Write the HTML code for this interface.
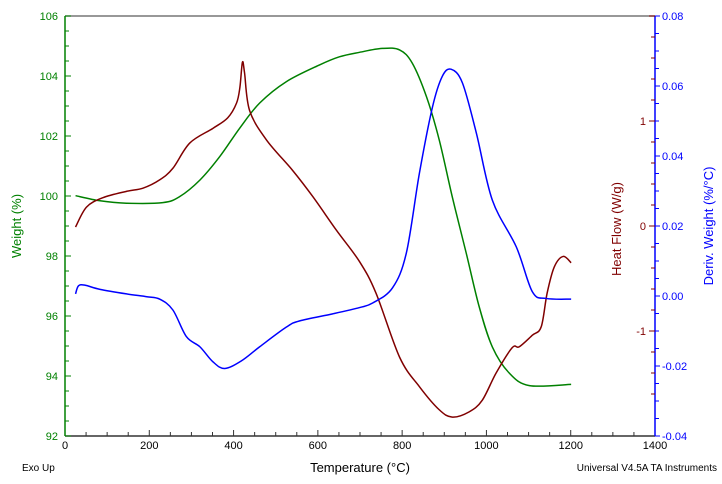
<!DOCTYPE html>
<html><head><meta charset="utf-8"><style>
body{margin:0;background:#fff;}
svg{display:block;font-family:"Liberation Sans",Arial,sans-serif;}
</style></head><body>
<svg id="chart" width="722" height="484" viewBox="0 0 722 484" xmlns="http://www.w3.org/2000/svg">
<g id="axes"></g>
<g id="series"></g>
<text x="22" y="471" font-size="10" fill="#000">Exo Up</text>
<text x="360" y="472" font-size="13" text-anchor="middle" fill="#000">Temperature (°C)</text>
<text x="717" y="471" font-size="10" text-anchor="end" fill="#000">Universal V4.5A TA Instruments</text>
<text transform="translate(21,226) rotate(-90)" font-size="13" text-anchor="middle" fill="#008000">Weight (%)</text>
<text transform="translate(621,229) rotate(-90)" font-size="13" text-anchor="middle" fill="#800000">Heat Flow (W/g)</text>
<text transform="translate(713,226) rotate(-90)" font-size="13" text-anchor="middle" fill="#0000ff">Deriv. Weight (%/°C)</text>
</svg>
<script>
// Data
const weightT = [25,83,146,232,272,320,367,415,462,525,604,651,699,753,794,824,858,888,919,952,983,1014,1054,1102,1201];
const weightV = [100.01,99.84,99.76,99.78,99.98,100.53,101.31,102.27,103.1,103.81,104.37,104.64,104.79,104.92,104.87,104.43,103.3,101.87,99.97,98.1,96.3,94.97,94.1,93.68,93.72];
const heatT = [25,51,90,146,185,225,256,296,351,386,407,415,421,426,438,478,540,588,644,699,738,794,841,888,919,959,990,1023,1061,1078,1109,1130,1144,1161,1182,1201];
const heatV = [-0.01,0.18,0.27,0.33,0.36,0.44,0.55,0.79,0.93,1.03,1.17,1.32,1.56,1.46,1.10,0.82,0.53,0.28,-0.04,-0.34,-0.64,-1.25,-1.53,-1.75,-1.82,-1.77,-1.66,-1.40,-1.16,-1.15,-1.04,-0.96,-0.64,-0.39,-0.29,-0.35];
const derivT = [25,32,47,83,146,194,225,256,288,320,351,379,419,462,525,557,635,699,730,777,810,841,872,895,916,943,976,1014,1071,1109,1142,1201];
const derivV = [0.0006,0.0029,0.0031,0.0019,0.0006,-0.0002,-0.0009,-0.004,-0.0116,-0.0145,-0.0188,-0.0207,-0.0185,-0.0145,-0.0089,-0.0071,-0.0051,-0.0033,-0.002,0.0023,0.0123,0.0351,0.054,0.0627,0.0648,0.0609,0.0466,0.0274,0.014,0.0012,-0.0007,-0.0009];
const xTicks = [0,200,400,600,800,1000,1200,1400];
const weightTicks = [92,94,96,98,100,102,104,106];
const heatTicks = [-1,0,1];
const derivTicks = [-0.04,-0.02,0.00,0.02,0.04,0.06,0.08];

const L=65,R=655,T=16,B=436;
const x = t => L + (t-0)/(1400)*(R-L);
const yW = v => T + (106-v)/14*(B-T);
const yH = v => 226 - v*105;
const yD = v => T + (0.08-v)/0.12*(B-T);
const NS='http://www.w3.org/2000/svg';
const axes=document.getElementById('axes'), series=document.getElementById('series');
function mk(tag,attrs,parent,text){const e=document.createElementNS(NS,tag);for(const k in attrs)e.setAttribute(k,attrs[k]);if(text!==undefined)e.textContent=text;parent.appendChild(e);return e;}

let e;
e=mk('line',{x1:L,y1:T,x2:R,y2:T,stroke:'#777','stroke-width':1.5},axes);


e=mk('line',{x1:L,y1:B,x2:R,y2:B,stroke:'#333','stroke-width':1.5},axes);


for(let t=0;t<=1400;t+=50){const maj=t%200===0;
 e=mk('line',{x1:x(t),y1:B,x2:x(t),y2:B-(maj?6:4),stroke:'#333'},axes);
 
 }
xTicks.forEach(t=>{e=mk('text',{x:x(t),y:B+13,'font-size':11,'text-anchor':'middle',fill:'#000'},axes,String(t));
 
 });
e=mk('line',{x1:L,y1:T,x2:L,y2:B,stroke:'#008000','stroke-width':1.5},axes);


for(let v=92;v<=106.001;v+=0.5){const maj=Math.abs(v-Math.round(v/2)*2)<0.01;
 e=mk('line',{x1:L,y1:yW(v),x2:L+(maj?6:4),y2:yW(v),stroke:'#008000'},axes);
 
 }
weightTicks.forEach(v=>{e=mk('text',{x:L-7,y:yW(v)+4,'font-size':11,'text-anchor':'end',fill:'#008000'},axes,String(v));
 
 });
e=mk('line',{x1:R,y1:T,x2:R,y2:B,stroke:'#0000ff','stroke-width':1.5},axes);


for(let i=0;i<=24;i++){const v=-0.04+i*0.005;const maj=i%4===0;
 e=mk('line',{x1:R,y1:yD(v),x2:R+(maj?5:4),y2:yD(v),stroke:'#0000ff'},axes);
 
 }
for(let i=-8;i<=10;i++){const v=i*0.2;const y=yH(v);if(y<T||y>B)continue;
 e=mk('line',{x1:R-(i%5===0?6:4),y1:y,x2:R,y2:y,stroke:'#800000'},axes);
 
 }
derivTicks.forEach(v=>{e=mk('text',{x:R+7,y:yD(v)+4,'font-size':11,fill:'#0000ff'},axes,v.toFixed(2));
 
 });
heatTicks.forEach(v=>{e=mk('text',{x:R-9,y:yH(v)+4,'font-size':11,'text-anchor':'end',fill:'#800000'},axes,String(v));
 
 });

function smooth(pts){let d='M'+pts[0][0]+','+pts[0][1];
 for(let i=0;i<pts.length-1;i++){const p0=pts[i-1]||pts[i],p1=pts[i],p2=pts[i+1],p3=pts[i+2]||p2;
  const c1=[p1[0]+(p2[0]-p0[0])/6,p1[1]+(p2[1]-p0[1])/6],c2=[p2[0]-(p3[0]-p1[0])/6,p2[1]-(p3[1]-p1[1])/6];
  d+=' C'+c1[0]+','+c1[1]+' '+c2[0]+','+c2[1]+' '+p2[0]+','+p2[1];}
 return d;}
e=mk('path',{d:smooth(weightT.map((t,i)=>[x(t),yW(weightV[i])])),fill:'none',stroke:'#008000','stroke-width':1.5},series);


e=mk('path',{d:smooth(heatT.map((t,i)=>[x(t),yH(heatV[i])])),fill:'none',stroke:'#800000','stroke-width':1.5},series);


e=mk('path',{d:smooth(derivT.map((t,i)=>[x(t),yD(derivV[i])])),fill:'none',stroke:'#0000ff','stroke-width':1.5},series);


</script>
</body></html>
